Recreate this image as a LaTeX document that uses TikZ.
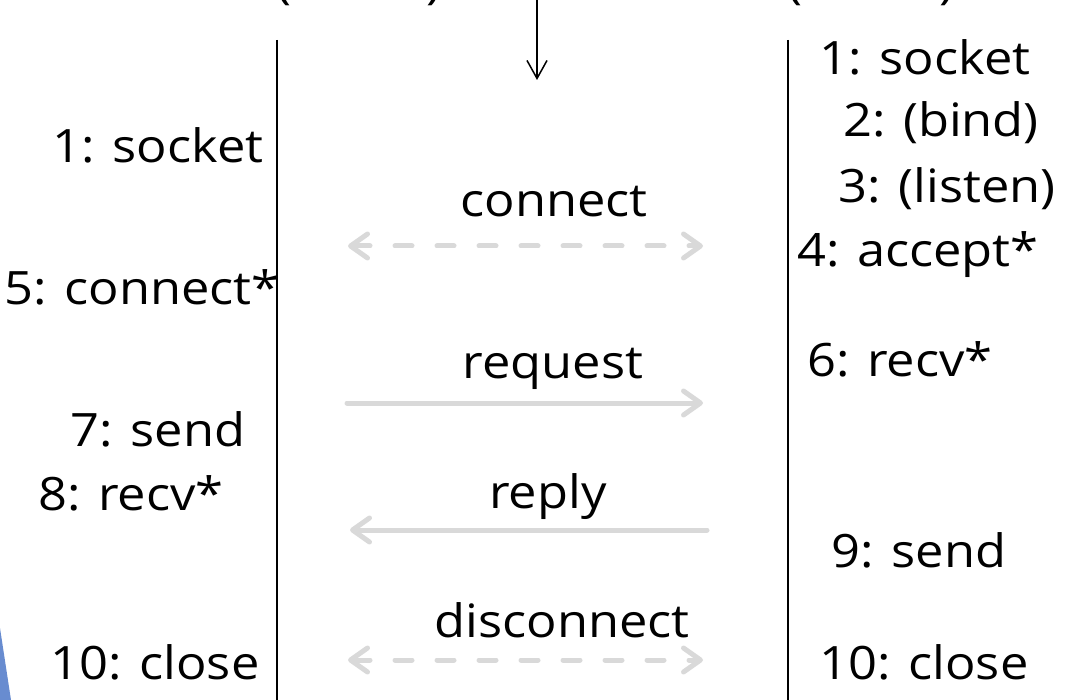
\documentclass[tikz,border=0pt]{standalone}
\usepackage{fontspec}
\setmainfont[FakeStretch=1.1]{Open Sans}
\usetikzlibrary{arrows.meta}
\definecolor{msggray}{HTML}{D9D9D9}
\definecolor{deco}{RGB}{104,140,208}
\tikzset{
  lbl/.style={font=\fontsize{46}{50}\selectfont, inner sep=0pt, anchor=base},
  lifeline/.style={line width=2pt, black},
  msg/.style={line width=5pt, msggray, line cap=round},
  msgdash/.style={msg, dash pattern=on 17pt off 25pt},
}
\begin{document}
\begin{tikzpicture}[x=1pt, y=-1pt]
\useasboundingbox (0,0) rectangle (1065,700);
\begin{scope}
\clip (0,0) rectangle (1065,700);
% decoration
\fill[deco] (0,628) -- (11,700) -- (0,700) -- cycle;
% cut-off headings
\node[lbl] (pl1) at (284,-1) {(};
\node[lbl] (pr1) at (434,-1) {)};
\node[lbl] (pl2) at (795,-1) {(};
\node[lbl] (pr2) at (947,-1) {)};
% lifelines
\coordinate (lt) at (277,40);
\coordinate (lb) at (277,700);
\coordinate (rt) at (788,40);
\coordinate (rb) at (788,700);
\draw[lifeline] (lt) -- (lb);
\draw[lifeline] (rt) -- (rb);
% time arrow
\coordinate (ta) at (537,0);
\coordinate (tb) at (537,80);
\draw[line width=1.5pt, -{Straight Barb[length=18pt, width=20pt]}] (ta) -- (tb);
% client labels
\node[lbl] (c1) at (158,163) {1: socket};
\node[lbl] (c5) at (142,305) {5: connect*};
\node[lbl] (c7) at (158,446) {7: send};
\node[lbl] (c8) at (131,510) {8: recv*};
\node[lbl] (c10) at (155,679) {10: close};
% server labels
\node[lbl] (s1) at (925,75) {1: socket};
\node[lbl] (s2) at (941,137) {2: (bind)};
\node[lbl] (s3) at (947,203) {3: (listen)};
\node[lbl] (s4) at (918,267) {4: accept*};
\node[lbl] (s6) at (900,377) {6: recv*};
\node[lbl] (s9) at (919,567) {9: send};
\node[lbl] (s10) at (924,679) {10: close};
% message labels
\node[lbl] (mconn) at (554,217) {connect};
\node[lbl] (mreq) at (553,378) {request};
\node[lbl] (mrep) at (548,508) {reply};
\node[lbl] (mdis) at (562,637) {disconnect};
% message arrows
\coordinate (a1) at (348,246); \coordinate (b1) at (703,246);
\coordinate (a2) at (347,403); \coordinate (b2) at (703,403);
\coordinate (a3) at (707,530); \coordinate (b3) at (350,530);
\coordinate (a4) at (348,660); \coordinate (b4) at (703,660);
\draw[msgdash, {Straight Barb[round, length=17pt, width=24pt]}-{Straight Barb[round, length=17pt, width=24pt]}] (a1) -- (b1);
\draw[msg, -{Straight Barb[round, length=17pt, width=24pt]}] (a2) -- (b2);
\draw[msg, -{Straight Barb[round, length=17pt, width=24pt]}] (a3) -- (b3);
\draw[msgdash, {Straight Barb[round, length=17pt, width=24pt]}-{Straight Barb[round, length=17pt, width=24pt]}] (a4) -- (b4);
\end{scope}
\end{tikzpicture}
\end{document}
